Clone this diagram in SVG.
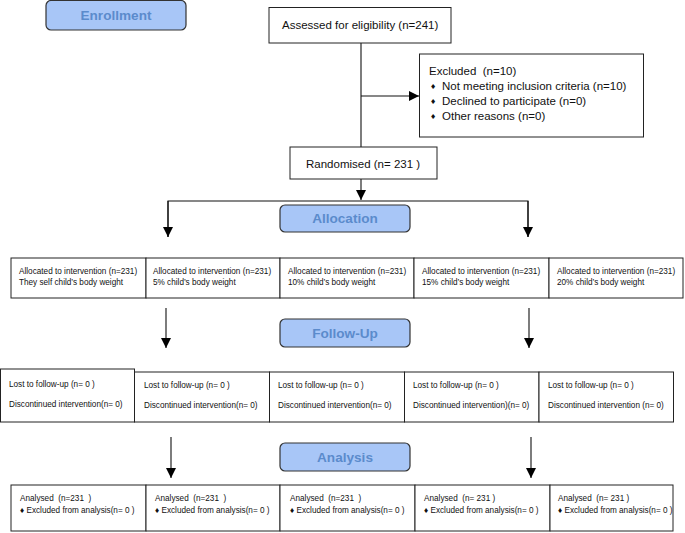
<svg xmlns="http://www.w3.org/2000/svg" width="685" height="533" viewBox="0 0 685 533">
<defs>
<style>
text{white-space:pre}
.stage{fill:#a8c6f7;stroke:#333;stroke-width:1.2}
.stxt{font-family:"Liberation Sans",Arial,sans-serif;font-weight:bold;font-size:13.6px;fill:#5b8bcc;text-anchor:middle}
.box{fill:#fff;stroke:#222;stroke-width:1}
.t11{font-family:"Liberation Sans",Arial,sans-serif;font-size:11.5px;fill:#111}
.t8{font-family:"Liberation Sans",Arial,sans-serif;font-size:8.2px;fill:#111}
.bul{font-family:"DejaVu Sans",sans-serif;font-size:7px;fill:#111}
.ln{fill:none;stroke:#111;stroke-width:1.1}
</style>
<marker id="ah" markerUnits="userSpaceOnUse" markerWidth="10" markerHeight="10" viewBox="0 0 10 10" refX="10" refY="5" orient="auto">
<path d="M0,0 L10,5 L0,10 z" fill="#000"/>
</marker>
</defs>

<g id="connectors">
<line class="ln" x1="361" y1="43" x2="361" y2="147"/>
<line class="ln" x1="361" y1="96" x2="419" y2="96" marker-end="url(#ah)"/>
<line class="ln" x1="361" y1="179" x2="361" y2="200" marker-end="url(#ah)"/>
<polyline class="ln" points="168,237 168,201 528,201 528,237"/>
<line class="ln" x1="168" y1="201" x2="168" y2="237" marker-end="url(#ah)"/>
<line class="ln" x1="528" y1="201" x2="528" y2="237" marker-end="url(#ah)"/>
<line class="ln" x1="166" y1="308" x2="166" y2="348" marker-end="url(#ah)"/>
<line class="ln" x1="529" y1="308" x2="529" y2="348" marker-end="url(#ah)"/>
<line class="ln" x1="171" y1="437" x2="171" y2="478" marker-end="url(#ah)"/>
<line class="ln" x1="531" y1="437" x2="531" y2="478" marker-end="url(#ah)"/>
</g>

<g id="stage-enrollment"><rect class="stage" x="46" y="0.5" width="140" height="29.5" rx="5"/><text class="stxt" x="116" y="20">Enrollment</text></g>
<g id="stage-allocation"><rect class="stage" x="280" y="205" width="130" height="27" rx="5"/><text class="stxt" x="345" y="223">Allocation</text></g>
<g id="stage-followup"><rect class="stage" x="280" y="319" width="130" height="28" rx="5"/><text class="stxt" x="345" y="338">Follow-Up</text></g>
<g id="stage-analysis"><rect class="stage" x="280" y="443" width="130" height="28" rx="5"/><text class="stxt" x="345" y="462">Analysis</text></g>

<g id="assessed"><rect class="box" x="269" y="7.5" width="182" height="35.5"/><text class="t11" x="282" y="29">Assessed for eligibility (n=241)</text></g>
<g id="excluded"><rect class="box" x="419.5" y="54" width="224" height="83"/>
<text class="t11" x="429" y="75" xml:space="preserve">Excluded  (n=10)</text>
<text class="bul" x="430" y="89">♦</text><text class="t11" x="442" y="90">Not meeting inclusion criteria (n=10)</text>
<text class="bul" x="430" y="104">♦</text><text class="t11" x="442" y="105">Declined to participate (n=0)</text>
<text class="bul" x="430" y="119">♦</text><text class="t11" x="442" y="120">Other reasons (n=0)</text>
</g>
<g id="randomised"><rect class="box" x="290" y="147" width="147" height="32"/><text class="t11" x="306" y="168">Randomised (n= 231 )</text></g>

<g id="alloc1"><rect class="box" x="11" y="258" width="135" height="40"/><text class="t8" x="19" y="274">Allocated to intervention (n=231)</text><text class="t8" x="19" y="285">They self child’s body weight</text></g>
<g id="alloc2"><rect class="box" x="146" y="258" width="134" height="40"/><text class="t8" x="153" y="274">Allocated to intervention (n=231)</text><text class="t8" x="153" y="285">5% child’s body weight</text></g>
<g id="alloc3"><rect class="box" x="280" y="258" width="134" height="40"/><text class="t8" x="288" y="274">Allocated to intervention (n=231)</text><text class="t8" x="288" y="285">10% child’s body weight</text></g>
<g id="alloc4"><rect class="box" x="414" y="258" width="135" height="40"/><text class="t8" x="422" y="274">Allocated to intervention (n=231)</text><text class="t8" x="422" y="285">15% child’s body weight</text></g>
<g id="alloc5"><rect class="box" x="549" y="258" width="134" height="40"/><text class="t8" x="557" y="274">Allocated to intervention (n=231)</text><text class="t8" x="557" y="285">20% child’s body weight</text></g>

<g id="follow1"><rect class="box" x="0.5" y="369" width="134" height="53"/><text class="t8" x="9" y="387">Lost to follow-up (n= 0 )</text><text class="t8" x="9" y="407">Discontinued intervention(n= 0)</text></g>
<g id="follow2"><rect class="box" x="134.5" y="372" width="135" height="50"/><text class="t8" x="144" y="388">Lost to follow-up (n= 0 )</text><text class="t8" x="144" y="408">Discontinued intervention(n= 0)</text></g>
<g id="follow3"><rect class="box" x="269.5" y="372" width="135" height="50"/><text class="t8" x="278" y="388">Lost to follow-up (n= 0 )</text><text class="t8" x="278" y="408">Discontinued intervention(n= 0)</text></g>
<g id="follow4"><rect class="box" x="404.5" y="372" width="134.5" height="50"/><text class="t8" x="413" y="388">Lost to follow-up (n= 0 )</text><text class="t8" x="413" y="408">Discontinued intervention)(n= 0)</text></g>
<g id="follow5"><rect class="box" x="539" y="372" width="134.5" height="50"/><text class="t8" x="548" y="388">Lost to follow-up (n= 0 )</text><text class="t8" x="548" y="408">Discontinued intervention (n= 0)</text></g>

<g id="anal1"><rect class="box" x="11" y="485" width="135" height="46"/><text class="t8" x="20" y="501" xml:space="preserve">Analysed  (n=231  )</text><text class="t8" x="20" y="513">♦ Excluded from analysis(n= 0 )</text></g>
<g id="anal2"><rect class="box" x="146" y="485" width="134" height="46"/><text class="t8" x="155" y="501" xml:space="preserve">Analysed  (n=231  )</text><text class="t8" x="155" y="513">♦ Excluded from analysis(n= 0 )</text></g>
<g id="anal3"><rect class="box" x="280" y="485" width="135" height="46"/><text class="t8" x="290" y="501" xml:space="preserve">Analysed  (n=231  )</text><text class="t8" x="290" y="513">♦ Excluded from analysis(n= 0 )</text></g>
<g id="anal4"><rect class="box" x="415" y="485" width="135" height="46"/><text class="t8" x="424" y="501" xml:space="preserve">Analysed  (n= 231 )</text><text class="t8" x="424" y="513">♦ Excluded from analysis(n= 0 )</text></g>
<g id="anal5"><rect class="box" x="550" y="485" width="123" height="46"/><text class="t8" x="558" y="501" xml:space="preserve">Analysed  (n= 231 )</text><text class="t8" x="558" y="513">♦ Excluded from analysis(n= 0 )</text></g>
</svg>
